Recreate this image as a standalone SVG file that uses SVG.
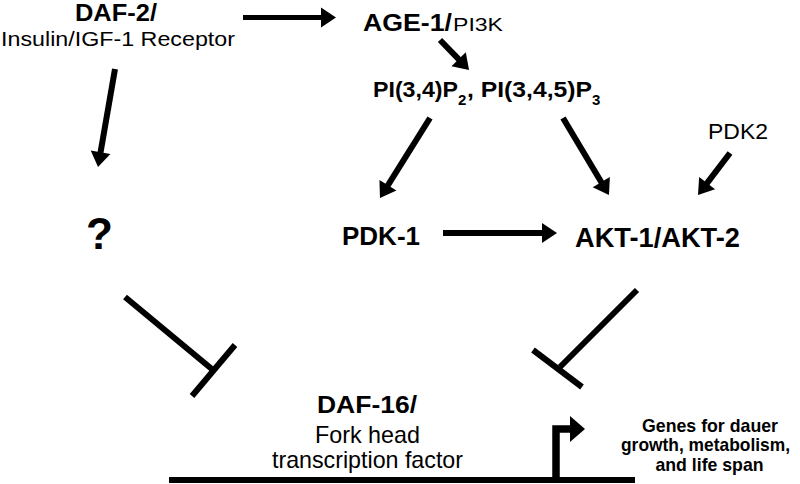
<svg xmlns="http://www.w3.org/2000/svg" width="800" height="484" viewBox="0 0 800 484">
<style>
text{font-family:"Liberation Sans",Arial,Helvetica,sans-serif;fill:#000}
.b{font-weight:bold}
.n{font-family:"Liberation Sans Narrow","Liberation Sans",Arial,sans-serif;font-weight:bold}
.act{stroke:#000;stroke-width:6;fill:none;marker-end:url(#ah)}
.inh{stroke:#000;stroke-width:6;fill:none;stroke-linecap:butt}
</style>
<defs>
<marker id="ah" markerUnits="userSpaceOnUse" markerWidth="20" markerHeight="24" viewBox="0 -12 18 24" refX="1" refY="0" orient="auto">
<path d="M0,-10 L15,0 L0,10 z" fill="#000"/>
</marker>
</defs>
<rect width="800" height="484" fill="#fff"/>

<g id="connectors">
<line class="act" x1="243" y1="17.5" x2="322" y2="17.5" style="stroke-width:5"/>
<line class="act" x1="115" y1="69" x2="100.4" y2="153.2"/>
<line class="act" x1="440" y1="40" x2="459.3" y2="59.9"/>
<line class="act" x1="430" y1="118" x2="387.4" y2="186.1"/>
<line class="act" x1="563" y1="118" x2="601.8" y2="183"/>
<line class="act" x1="730" y1="153" x2="706.5" y2="183.9"/>
<line class="act" x1="443" y1="233" x2="543" y2="233"/>
<g id="inhibit-left">
<line class="inh" x1="125" y1="297" x2="213" y2="370"/>
<line class="inh" x1="235" y1="345" x2="192" y2="396"/>
</g>
<g id="inhibit-right">
<line class="inh" x1="637" y1="290" x2="560" y2="367"/>
<line class="inh" x1="533" y1="350" x2="582" y2="387"/>
</g>
</g>

<g id="dna">
<line x1="169" y1="480" x2="635" y2="480" stroke="#000" stroke-width="6"/>
<path d="M556,483 L556,429 L572,429" stroke="#000" stroke-width="7.5" fill="none" stroke-linejoin="miter"/>
<polygon points="570,416 585,429 570,442" fill="#000"/>
</g>

<g id="daf2">
<text class="b" x="116" y="21" font-size="23" text-anchor="middle" textLength="82" lengthAdjust="spacingAndGlyphs">DAF-2/</text>
<text x="1" y="46" font-size="21" textLength="234" lengthAdjust="spacingAndGlyphs">Insulin/IGF-1 Receptor</text>
</g>

<g id="age1">
<text x="363" y="31"><tspan class="b" font-size="23" textLength="89" lengthAdjust="spacingAndGlyphs">AGE-1/</tspan><tspan x="453" font-size="17.5" textLength="50" lengthAdjust="spacingAndGlyphs">PI3K</tspan></text>
</g>

<g id="pip">
<text class="b" x="373" y="97" font-size="22.5"><tspan textLength="85" lengthAdjust="spacingAndGlyphs">PI(3,4)P</tspan><tspan x="458" y="105" font-size="15">2</tspan><tspan x="467" y="97" textLength="125" lengthAdjust="spacingAndGlyphs">, PI(3,4,5)P</tspan><tspan x="592" y="105" font-size="15">3</tspan></text>
</g>

<g id="pdk2">
<text x="708" y="139" font-size="22" textLength="60" lengthAdjust="spacingAndGlyphs">PDK2</text>
</g>

<g id="unknown">
<text class="b" x="99.5" y="249" font-size="44" text-anchor="middle">?</text>
</g>

<g id="pdk1">
<text class="b" x="342" y="245" font-size="26" textLength="78" lengthAdjust="spacingAndGlyphs">PDK-1</text>
</g>

<g id="akt">
<text class="b" x="575" y="247" font-size="27" textLength="165" lengthAdjust="spacingAndGlyphs">AKT-1/AKT-2</text>
</g>

<g id="daf16">
<text class="b" x="367" y="413" font-size="24" text-anchor="middle" textLength="100" lengthAdjust="spacingAndGlyphs">DAF-16/</text>
<text x="367.5" y="443" font-size="24" text-anchor="middle" textLength="105" lengthAdjust="spacingAndGlyphs">Fork head</text>
<text x="367.5" y="468" font-size="24" text-anchor="middle" textLength="191" lengthAdjust="spacingAndGlyphs">transcription factor</text>
</g>

<g id="genes">
<text class="n" x="710" y="431.5" font-size="18.5" text-anchor="middle" textLength="136" lengthAdjust="spacingAndGlyphs">Genes for dauer</text>
<text class="n" x="621" y="451" font-size="18.5" textLength="169" lengthAdjust="spacingAndGlyphs">growth, metabolism,</text>
<text class="n" x="709.5" y="470.5" font-size="18.5" text-anchor="middle" textLength="108" lengthAdjust="spacingAndGlyphs">and life span</text>
</g>
</svg>
